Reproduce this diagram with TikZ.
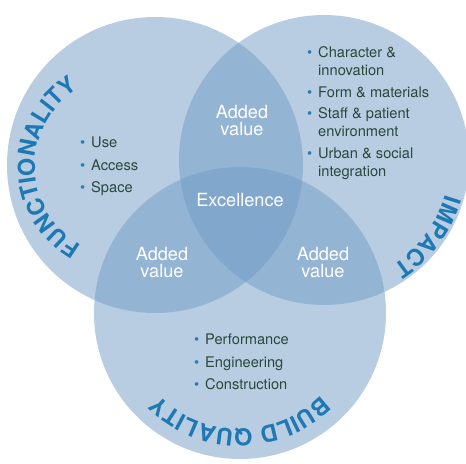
\documentclass[tikz,border=0pt]{standalone}
\usepackage{fontspec}
\setmainfont{TeX Gyre Heros}
\usepackage{xcolor}
\usetikzlibrary{decorations.text}
\definecolor{circblue}{RGB}{113,155,197}
\definecolor{titleblue}{RGB}{30,120,180}
\definecolor{bulletblue}{RGB}{40,125,185}
\definecolor{listgreen}{RGB}{42,72,60}
\newcommand{\bul}{\makebox[0.75em][l]{\color{bulletblue}\textbullet}}
\newcommand{\hang}{\hspace*{0.75em}}

\begin{document}
\begin{tikzpicture}[
 x=0.03cm, y=0.03cm,
 venn/.style={fill=circblue, fill opacity=0.5},
 plus/.style={text=white, align=center, inner sep=0, font=\fontsize{15.5}{14.5}\selectfont},
 items/.style={text=listgreen, align=left, anchor=north west, inner sep=0, font=\fontsize{12.5}{15.3}\selectfont},
 title/.style={decorate, decoration={text along path, text align=center,
   text={|\fontsize{20}{24}\selectfont\bfseries\color{titleblue}|#1}}}
]
\useasboundingbox (0,0) rectangle (466,463);

% Circles
\coordinate (func) at (155,298);
\coordinate (impact) at (324,303);
\coordinate (build) at (240,150);
\fill[venn] (func) circle[radius=148];
\fill[venn] (impact) circle[radius=145];
\fill[venn] (build) circle[radius=146];

% Titles along the rims
\path[title=FUNCTIONALITY] (125,297) ++(250:90) arc[start angle=250, end angle=112, radius=90];
\path[title=IMPACT] (impact) ++(-5:126) arc[start angle=-5, end angle=-68, radius=126];
\path[title=BUILD QUALITY] (build) ++(-25:116) arc[start angle=-25, end angle=-155, radius=116];

% Lists
\node[items] (funclist) at (80,326) {\bul Use\\[3.7pt] \bul Access\\[3.7pt] \bul Space};
\node[items] (impactlist) at (307,417) {\bul Character \&\\ \hang innovation\\[3.4pt]
  \bul Form \& materials\\[3.4pt] \bul Staff \& patient\\ \hang environment\\[3.4pt]
  \bul Urban \& social\\ \hang integration};
\node[items] (buildlist) at (194,129) {\bul Performance\\[3.7pt] \bul Engineering\\[3.7pt] \bul Construction};

% Overlaps
\node[plus] (topplus) at (242,342) {Added\\value};
\node[plus] (leftplus) at (162,200) {Added\\value};
\node[plus] (rightplus) at (323,200) {Added\\value};
\node[plus] (core) at (240,263) {Excellence};

\end{tikzpicture}
\end{document}
